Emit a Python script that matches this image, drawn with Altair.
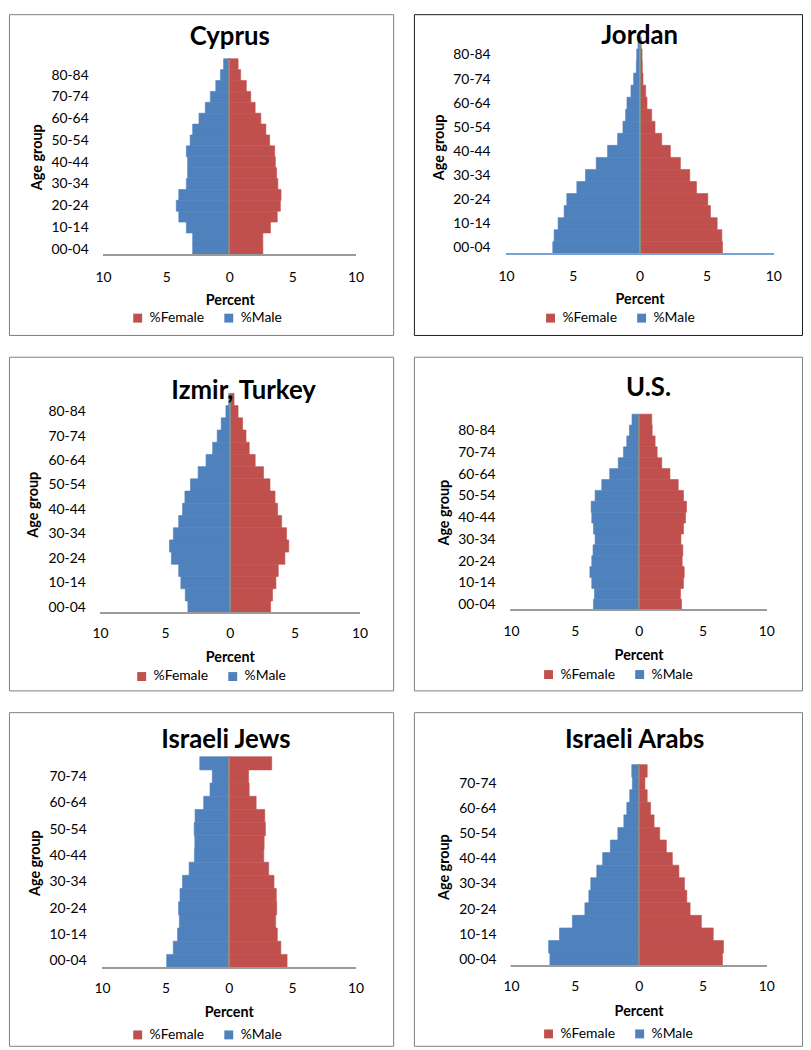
import altair as alt
import pandas as pd

# ---------------- data (percent of population) ----------------
AGES_18 = ["00-04", "05-09", "10-14", "15-19", "20-24", "25-29", "30-34", "35-39",
           "40-44", "45-49", "50-54", "55-59", "60-64", "65-69", "70-74", "75-79",
           "80-84", "85+"]
AGES_16 = ["00-04", "05-09", "10-14", "15-19", "20-24", "25-29", "30-34", "35-39",
           "40-44", "45-49", "50-54", "55-59", "60-64", "65-69", "70-74", "75+"]

cyprus_male = [2.9, 2.9, 3.4, 4.0, 4.2, 4.0, 3.4, 3.3, 3.3, 3.4, 3.1, 2.9, 2.4, 1.9, 1.5, 1.07, 0.7, 0.45]
cyprus_female = [2.66, 2.66, 3.26, 3.8, 4.05, 4.1, 3.85, 3.75, 3.65, 3.6, 3.2, 2.9, 2.5, 2.05, 1.7, 1.35, 0.9, 0.7]

jordan_male = [6.5, 6.4, 6.1, 5.65, 5.45, 4.7, 4.05, 3.25, 2.4, 1.65, 1.25, 1.05, 0.95, 0.65, 0.45, 0.25, 0.22, 0.12]
jordan_female = [6.2, 6.15, 5.8, 5.3, 5.1, 4.25, 3.75, 3.05, 2.3, 1.65, 1.15, 0.9, 0.55, 0.45, 0.25, 0.2, 0.18, 0.12]

izmir_male = [3.23, 3.43, 3.77, 3.94, 4.5, 4.65, 4.35, 3.94, 3.64, 3.46, 3.03, 2.44, 1.83, 1.32, 0.97, 0.66, 0.3, 0.08]
izmir_female = [3.15, 3.3, 3.56, 3.74, 4.25, 4.55, 4.38, 4.0, 3.69, 3.49, 3.1, 2.6, 1.96, 1.5, 1.25, 0.99, 0.64, 0.33]

us_male = [3.54, 3.46, 3.67, 3.82, 3.67, 3.57, 3.41, 3.54, 3.67, 3.72, 3.41, 2.89, 2.27, 1.6, 1.19, 0.93, 0.72, 0.52]
us_female = [3.36, 3.28, 3.51, 3.57, 3.41, 3.46, 3.31, 3.51, 3.67, 3.75, 3.51, 3.1, 2.45, 1.81, 1.45, 1.29, 1.06, 1.03]

jews_male = [4.9, 4.38, 4.04, 3.9, 3.96, 3.85, 3.65, 3.13, 2.71, 2.68, 2.73, 2.66, 1.98, 1.48, 1.3, 2.29]
jews_female = [4.6, 4.11, 3.83, 3.7, 3.78, 3.75, 3.57, 3.15, 2.76, 2.79, 2.89, 2.84, 2.16, 1.61, 1.56, 3.39]

arabs_male = [6.95, 7.05, 6.2, 5.19, 4.21, 3.9, 3.75, 3.28, 2.82, 2.22, 1.63, 1.16, 0.93, 0.7, 0.49, 0.54]
arabs_female = [6.56, 6.64, 5.84, 4.91, 4.03, 3.77, 3.59, 3.15, 2.64, 2.17, 1.65, 1.21, 0.93, 0.67, 0.49, 0.67]

X_TICKS = [-10, -5, 0, 5, 10]
SEXES = ["%Female", "%Male"]
COLORS = ["#C0504D", "#4F81BD"]
FONT = "Lato"
TITLE_SIZE = 26

# ---------------- layout (page pixels) ----------------
GRAY_FRAME = "#7f7f7f"
LAYOUT = {
    "Cyprus": dict(frame=(8, 8, 388, 324), xm10=103, xp10=358, base=251, top=53,
                   title=(231, 39), yt=(37, 152), ylab_r=88, xlab_cy=274, xt=(231, 297),
                   leg=(131, 315), stroke=GRAY_FRAME, axis="#9a9a9a", center="#8c8c8c"),
    "Jordan": dict(frame=(416, 8, 392, 324), xm10=509, xp10=779, base=250, top=31,
                   title=(644, 37.5), yt=(442, 142), ylab_r=493, xlab_cy=273, xt=(644, 296),
                   leg=(547, 315), stroke="#1a1a1a", axis="#7BA0D4", center="#8a9a8a"),
    "Izmir, Turkey": dict(frame=(8, 353, 388, 337), xm10=100, xp10=362, base=612, top=390,
                          title=(245, 395), yt=(33, 502), ylab_r=85, xlab_cy=633, xt=(231, 657),
                          leg=(135, 676), stroke=GRAY_FRAME, axis="#9a9a9a", center="#8c8c8c"),
    "U.S.": dict(frame=(416, 353, 392, 337), xm10=514, xp10=772, base=609, top=411,
                 title=(653, 392), yt=(447, 510), ylab_r=498, xlab_cy=631, xt=(643, 655),
                 leg=(545, 674), stroke=GRAY_FRAME, axis="#9a9a9a", center="#8c8c8c"),
    "Israeli Jews": dict(frame=(8, 711, 388, 337), xm10=102, xp10=358, base=969, top=756,
                         title=(227, 747), yt=(35, 863), ylab_r=86, xlab_cy=990, xt=(230, 1014),
                         leg=(131, 1037), stroke=GRAY_FRAME, axis="#9a9a9a", center="#8c8c8c"),
    "Israeli Arabs": dict(frame=(416, 711, 392, 337), xm10=514, xp10=772, base=967, top=764,
                          title=(639, 747), yt=(447, 867), ylab_r=499, xlab_cy=988, xt=(643, 1013),
                          leg=(545, 1036), stroke=GRAY_FRAME, axis="#9a9a9a", center="#8c8c8c"),
}


def label_expr(ages):
    idx = list(range(0, len(ages) - 1, 2))
    expr = "''"
    for i in reversed(idx):
        expr = f"datum.value < {i + 1} ? '{ages[i]}' : ({expr})"
    return expr, [i + 0.5 for i in idx]


def panel(name, ages, male, female):
    P = LAYOUT[name]
    fx, fy, fw, fh = P["frame"]
    n = len(ages)
    s = (P["xp10"] - P["xm10"]) / 20.0
    x_lo = -10 - (P["xm10"] - fx) / s
    x_hi = -10 + (fw - (P["xm10"] - fx)) / s
    bh = (P["base"] - P["top"]) / n
    y_lo = (P["base"] - (fy + fh)) / bh
    y_hi = (P["base"] - fy) / bh

    rows = []
    for i, age in enumerate(ages):
        rows.append({"age": age, "i": i, "i1": i + 1, "x0": 0, "x1": female[i], "sex": "%Female"})
        rows.append({"age": age, "i": i, "i1": i + 1, "x0": -male[i], "x1": 0, "sex": "%Male"})
    df = pd.DataFrame(rows)

    expr, yvals = label_expr(ages)

    xscale = alt.Scale(domain=[x_lo, x_hi], nice=False, zero=False)
    yscale = alt.Scale(domain=[y_lo, y_hi], nice=False, zero=False)
    cscale = alt.Scale(domain=SEXES, range=COLORS)

    xaxis = alt.Axis(
        orient="bottom", offset=P["base"] - (fy + fh), values=X_TICKS,
        labelExpr="abs(datum.value)", domain=False, ticks=False, tickSize=0, grid=False,
        labelPadding=P["xlab_cy"] - P["base"], labelBaseline="middle", labelFlush=False,
        labelOverlap=False, labelFont=FONT, labelFontSize=14, labelColor="black",
        title="Percent", titleFont=FONT, titleFontSize=14.5, titleFontWeight="bold",
        titleColor="black", titleX=P["xt"][0] - fx, titleY=P["xt"][1] - P["base"],
        titleAlign="center", titleBaseline="middle",
    )
    yaxis = alt.Axis(
        orient="left", offset=-(P["xm10"] - fx), values=yvals, labelExpr=expr,
        domain=False, ticks=False, tickSize=0, grid=False,
        labelPadding=P["xm10"] - P["ylab_r"], labelOverlap=False, labelFont=FONT,
        labelFontSize=14, labelColor="black", labelBaseline="middle",
        title="Age group", titleFont=FONT, titleFontSize=14.5, titleFontWeight="bold",
        titleColor="black", titleAngle=270, titleX=P["yt"][0] - P["xm10"],
        titleY=P["yt"][1] - fy, titleAlign="center", titleBaseline="middle",
    )
    legend = alt.Legend(
        orient="none", legendX=P["leg"][0] - fx, legendY=P["leg"][1] - fy - 7,
        direction="horizontal", title=None, symbolType="square", symbolSize=81,
        symbolStrokeWidth=0, labelFont=FONT, labelFontSize=14, labelColor="black",
        columnPadding=17, labelOffset=5, padding=0,
    )

    bars = alt.Chart(df).mark_bar(strokeWidth=0.6).encode(
        x=alt.X("x0:Q", scale=xscale, axis=xaxis),
        x2="x1:Q",
        y=alt.Y("i:Q", scale=yscale, axis=yaxis),
        y2="i1:Q",
        color=alt.Color("sex:N", scale=cscale, legend=legend),
        stroke=alt.Stroke("sex:N", scale=cscale, legend=None),
    )
    base_line = alt.Chart(df).mark_rule(color=P["axis"], strokeWidth=1.3).encode(
        x=alt.datum(-10), x2=alt.datum(10), y=alt.datum(0)
    )
    center_line = alt.Chart(df).mark_rule(color=P["center"], strokeWidth=1).encode(
        x=alt.datum(0), y=alt.datum(0), y2=alt.datum(n)
    )
    title = alt.TitleParams(
        text=name, anchor="middle", frame="group", font=FONT, fontSize=TITLE_SIZE,
        fontWeight="bold", color="black", baseline="alphabetic",
        offset=-(P["title"][1] - fy) - 0.5 - TITLE_SIZE,
        dx=P["title"][0] - (fx + fw / 2.0),
    )
    return alt.layer(bars, center_line, base_line).properties(
        width=fw, height=fh, title=title,
        view=alt.ViewBackground(stroke=P["stroke"], strokeWidth=1, fill="white"),
    )


panels = [
    panel("Cyprus", AGES_18, cyprus_male, cyprus_female),
    panel("Jordan", AGES_18, jordan_male, jordan_female),
    panel("Izmir, Turkey", AGES_18, izmir_male, izmir_female),
    panel("U.S.", AGES_18, us_male, us_female),
    panel("Israeli Jews", AGES_16, jews_male, jews_female),
    panel("Israeli Arabs", AGES_16, arabs_male, arabs_female),
]

chart = alt.concat(
    *panels, columns=2, align="each", bounds="full",
    spacing={"row": 20, "column": 19},
).resolve_scale(
    x="independent", y="independent", color="independent", stroke="independent"
).resolve_axis(
    x="independent", y="independent"
).resolve_legend(
    color="independent", stroke="independent"
).properties(
    padding=0, background="white"
).configure(font=FONT)

chart.save("out.html", embed_options={"renderer": "svg", "actions": False})
